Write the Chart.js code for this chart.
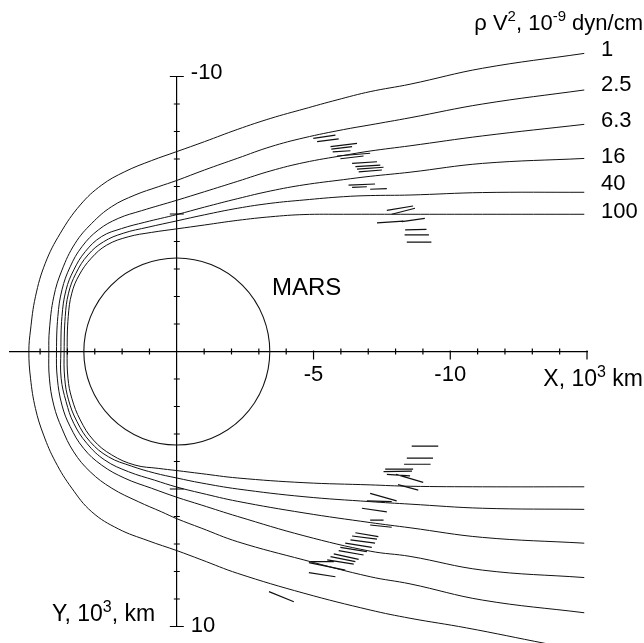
<!DOCTYPE html>
<html>
<head>
<meta charset="utf-8">
<script src="https://cdn.jsdelivr.net/npm/chart.js@4/dist/chart.umd.min.js"></script>
<style>
  html, body { margin: 0; padding: 0; background: #fff; }
  #contenedor { width: 644px; height: 643px; }
</style>
</head>
<body>
<div id="contenedor"><canvas id="graficaChoque" width="644" height="643"></canvas></div>
<script>
const FUENTE = '"Liberation Sans", Arial, sans-serif';
const RADIO_MARTE = 3.4;

// presion dinamica de cada curva (10^-9 dyn/cm2)
const presiones = ['1', '2.5', '6.3', '16', '40', '100'];

// etiquetas de los ejes (10^3 km)
const etiquetasX = [-5, -10];
const etiquetasY = [-10, 10];

// curvas del choque [X, Y], desde la cola norte, por la nariz, hasta la cola sur
const choque1 = [[-14.9,-10.84],[-11.18,-10.3],[-8.53,-9.72],[-7.07,-9.45],[-5.86,-9.15],[-4.65,-8.82],[-3.44,-8.48],[-2.23,-8.08],[-1.01,-7.63],[0,-7.27],[0.93,-6.94],[1.9,-6.54],[2.75,-6.05],[3.53,-5.33],[4.26,-4.3],[4.81,-3.21],[5.17,-1.99],[5.35,-0.78],[5.41,0],[5.35,0.97],[5.17,2.07],[4.87,3.04],[4.44,4.01],[3.84,4.97],[3.11,5.83],[2.14,6.45],[1.05,6.88],[0,7.24],[-0.89,7.57],[-2.23,8.07],[-4.65,8.79],[-7.07,9.4],[-8.53,9.7],[-10.59,10.05],[-13.5,10.62],[-15,10.9]];
const choque25 = [[-14.9,-9.51],[-11.18,-9.0],[-8.53,-8.5],[-7.07,-8.24],[-6.1,-8.07],[-4.65,-7.77],[-3.44,-7.45],[-2.23,-7.03],[-1.01,-6.6],[0,-6.22],[0.68,-5.99],[1.53,-5.69],[2.38,-5.27],[3.11,-4.66],[3.72,-3.93],[4.2,-2.96],[4.5,-1.99],[4.66,-0.78],[4.68,0],[4.66,0.97],[4.5,1.95],[4.2,2.8],[3.77,3.65],[3.17,4.37],[2.38,4.97],[1.41,5.46],[0.56,5.83],[0,6.08],[-0.89,6.42],[-2.23,6.92],[-4.65,7.58],[-7.07,8.19],[-8.53,8.45],[-11.18,9.04],[-14.9,9.5]];
const choque63 = [[-14.9,-8.26],[-11.18,-7.84],[-8.53,-7.48],[-7.07,-7.29],[-6.1,-7.13],[-4.65,-6.87],[-3.44,-6.57],[-2.23,-6.19],[-1.01,-5.81],[0,-5.5],[1.29,-5.12],[2.14,-4.84],[2.87,-4.42],[3.47,-3.81],[3.9,-3.08],[4.2,-2.24],[4.35,-1.27],[4.4,0],[4.37,0.97],[4.2,1.95],[3.9,2.73],[3.41,3.52],[2.75,4.13],[1.9,4.61],[0.93,4.97],[0,5.3],[-0.89,5.58],[-2.23,6.0],[-4.65,6.7],[-7.07,7.26],[-8.53,7.45],[-11.18,7.95],[-14.9,8.22]];
const choque16 = [[-14.9,-7.02],[-11.18,-6.84],[-8.53,-6.52],[-7.07,-6.37],[-6.1,-6.25],[-4.65,-6.06],[-3.44,-5.84],[-2.23,-5.56],[-1.01,-5.25],[0,-4.98],[1.17,-4.7],[2.02,-4.47],[2.75,-4.18],[3.35,-3.63],[3.77,-2.96],[4.05,-2.24],[4.2,-1.27],[4.24,0],[4.23,0.97],[4.05,1.82],[3.77,2.61],[3.29,3.34],[2.63,3.95],[1.77,4.37],[0.81,4.68],[0,4.93],[-0.89,5.15],[-2.23,5.45],[-4.65,5.87],[-7.07,6.22],[-8.53,6.41],[-11.18,6.76],[-14.9,6.97]];
const choque40 = [[-14.9,-5.79],[-11.18,-5.78],[-8.53,-5.69],[-7.07,-5.67],[-6.1,-5.63],[-4.65,-5.51],[-3.44,-5.39],[-2.23,-5.21],[-1.01,-4.97],[0,-4.75],[1.05,-4.52],[1.96,-4.3],[2.68,-3.99],[3.25,-3.51],[3.69,-2.84],[3.96,-2.12],[4.08,-1.27],[4.12,0],[4.1,0.97],[3.96,1.76],[3.65,2.55],[3.17,3.28],[2.5,3.83],[1.65,4.17],[0.81,4.42],[0,4.6],[-0.89,4.78],[-2.23,5.0],[-4.65,5.28],[-7.07,5.46],[-8.53,5.55],[-11.18,5.7],[-14.9,5.74]];
const choque100 = [[-14.9,-4.99],[-11.18,-4.99],[-8.53,-4.99],[-6.1,-4.99],[-4.65,-4.98],[-3.44,-4.9],[-2.23,-4.77],[-1.01,-4.6],[0,-4.46],[0.93,-4.33],[1.78,-4.17],[2.56,-3.87],[3.13,-3.39],[3.57,-2.78],[3.84,-2.12],[3.97,-1.27],[4.01,0],[3.98,0.97],[3.84,1.7],[3.53,2.49],[3.05,3.22],[2.38,3.76],[1.53,4.13],[0.68,4.25],[0,4.33],[-0.89,4.44],[-2.23,4.6],[-4.65,4.77],[-7.07,4.85],[-8.53,4.9],[-11.18,4.92],[-14.9,4.92]];

// cruces observados del choque: [X1, Y1, X2, Y2]
const crucesNorte = [
  [-4.99,-7.75,-5.80,-7.87],[-5.13,-7.63,-5.92,-7.73],[-5.62,-7.45,-6.59,-7.57],[-5.65,-7.36,-6.41,-7.45],
  [-5.70,-7.26,-6.35,-7.30],[-5.86,-7.11,-7.07,-7.21],[-5.98,-7.01,-6.83,-7.11],[-6.41,-6.84,-7.32,-6.90],
  [-6.53,-6.72,-7.44,-6.78],[-6.59,-6.63,-7.56,-6.70],[-6.65,-6.53,-7.50,-6.60],[-6.28,-6.05,-7.25,-6.09],
  [-6.41,-5.97,-6.95,-5.99],[-7.07,-5.90,-7.68,-5.92],[-7.68,-5.13,-8.64,-5.29],[-7.86,-4.99,-8.71,-5.21],
  [-7.32,-4.68,-8.28,-4.74],[-8.23,-4.72,-9.07,-4.84],[-8.35,-4.42,-9.13,-4.44],[-8.33,-4.24,-9.22,-4.24],
  [-8.41,-3.98,-9.31,-3.98]
];
const crucesSur = [
  [-8.59,3.44,-9.56,3.44],[-8.41,3.88,-9.37,3.88],[-8.31,4.10,-9.28,4.10],[-7.62,4.28,-8.64,4.28],
  [-7.56,4.37,-8.60,4.35],[-7.68,4.47,-8.53,4.52],[-8.02,4.47,-9.01,4.76],[-8.09,4.84,-8.83,5.04],
  [-7.07,5.16,-8.04,5.43],[-6.95,5.43,-7.86,5.46],[-6.77,5.70,-7.68,5.83],[-7.07,6.13,-7.56,6.13],
  [-7.07,6.31,-7.86,6.39],[-6.53,6.59,-7.37,6.73],[-6.41,6.71,-7.32,6.82],[-6.35,6.85,-7.25,6.97],
  [-6.16,6.97,-7.13,7.12],[-5.98,7.12,-6.95,7.28],[-5.92,7.24,-6.83,7.40],[-5.74,7.36,-6.65,7.56],
  [-5.62,7.46,-6.53,7.64],[-5.50,7.58,-6.47,7.73],[-4.89,7.64,-5.74,7.64],[-4.83,7.68,-6.16,7.95],
  [-4.83,8.04,-5.80,8.19],[-3.37,8.73,-4.28,9.10]
];

const curvas = [choque1, choque25, choque63, choque16, choque40, choque100];

const aPuntos = (lista) => lista.map(([x, y]) => ({ x, y }));

const aTrazos = (lista) => {
  const puntos = [];
  lista.forEach(([x1, y1, x2, y2]) => {
    puntos.push({ x: x1, y: y1 }, { x: x2, y: y2 }, { x: x2, y: null });
  });
  return puntos;
};

const escribir = (ctx, partes, x, y, alinear) => {
  let ancho = 0;
  partes.forEach(([texto, tam]) => {
    ctx.font = `${tam}px ${FUENTE}`;
    ancho += ctx.measureText(texto).width;
  });
  let px = alinear === 'right' ? x - ancho : x;
  partes.forEach(([texto, tam, subida]) => {
    ctx.font = `${tam}px ${FUENTE}`;
    ctx.fillText(texto, px, y - subida);
    px += ctx.measureText(texto).width;
  });
};

const dibujoEjes = {
  id: 'dibujoEjes',
  beforeDatasetsDraw(chart) {
    const { ctx, scales: { x, y } } = chart;
    const cx = x.getPixelForValue(0);
    const cy = y.getPixelForValue(0);
    const rx = Math.abs(x.getPixelForValue(RADIO_MARTE) - cx);
    const ry = Math.abs(y.getPixelForValue(RADIO_MARTE) - cy);
    ctx.save();
    ctx.strokeStyle = '#111';
    ctx.lineWidth = 1.1;
    ctx.beginPath();
    ctx.ellipse(cx, cy, rx, ry, 0, 0, Math.PI * 2);
    ctx.stroke();
    ctx.restore();
  },
  afterDraw(chart) {
    const { ctx, chartArea, scales: { x, y } } = chart;
    const ejeX = y.getPixelForValue(0);
    const ejeY = x.getPixelForValue(0);
    ctx.save();
    ctx.strokeStyle = '#000';
    ctx.lineWidth = 1.2;
    ctx.beginPath();
    y.ticks.forEach(({ value }) => {
      if (!Number.isInteger(value) || value === 0) return;
      const py = y.getPixelForValue(value);
      const largo = Math.abs(value) % 5 === 0 ? 7 : 3;
      ctx.moveTo(ejeY - largo, py);
      ctx.lineTo(ejeY + largo, py);
    });
    x.ticks.forEach(({ value }) => {
      if (!Number.isInteger(value) || value === 0) return;
      const px = x.getPixelForValue(value);
      if (value % 5 === 0 && value < 0) {
        ctx.moveTo(px, ejeX - 1);
        ctx.lineTo(px, ejeX + 8);
      } else {
        ctx.moveTo(px, ejeX - 3);
        ctx.lineTo(px, ejeX + 3);
      }
    });
    ctx.stroke();

    ctx.fillStyle = '#000';
    ctx.textBaseline = 'alphabetic';
    ctx.textAlign = 'left';
    ctx.font = `22px ${FUENTE}`;
    etiquetasY.forEach((v) => {
      const py = y.getPixelForValue(v) + (v < 0 ? 2 : 5);
      ctx.fillText(String(v), ejeY + 14, py);
    });

    // valores de presion al final de cada curva
    const ajustes = [-3, -5, -3, -1.5, -8, -2];
    ctx.textBaseline = 'middle';
    curvas.forEach((curva, i) => {
      const py = y.getPixelForValue(curva[0][1]) + ajustes[i];
      ctx.fillText(presiones[i], chartArea.right + 14, py);
    });

    ctx.textBaseline = 'alphabetic';
    escribir(ctx, [['\u03c1', 22, 0], [' V', 22, 0], ['2', 15, 9], [', 10', 22, 0], ['-9', 15, 9], [' dyn/cm', 22, 0]], 643, 30, 'right');
    escribir(ctx, [['X, 10', 23, 0], ['3', 16, 9], [' km', 23, 0]], 643, 386, 'right');
    escribir(ctx, [['Y, 10', 23, 0], ['3', 16, 9], [', km', 23, 0]], 52, 621, 'left');

    ctx.font = `24px ${FUENTE}`;
    ctx.textAlign = 'center';
    ctx.fillText('MARS', x.getPixelForValue(-4.75), y.getPixelForValue(-2.05));
    ctx.restore();
  }
};

const conjuntos = curvas.map((curva, i) => ({
  label: presiones[i],
  data: aPuntos(curva),
  showLine: true,
  borderColor: '#111',
  borderWidth: 1,
  pointRadius: 0,
  tension: 0.4,
  clip: false
}));

conjuntos.push({
  label: 'cruces',
  data: aTrazos(crucesNorte.concat(crucesSur)),
  showLine: true,
  borderColor: '#111',
  borderWidth: 1.2,
  pointRadius: 0,
  tension: 0,
  spanGaps: false,
  clip: false
});

new Chart(document.getElementById('graficaChoque'), {
  type: 'scatter',
  data: { datasets: conjuntos },
  plugins: [dibujoEjes],
  options: {
    responsive: false,
    animation: false,
    layout: { padding: { left: 8, right: 57, top: 76.5, bottom: 16.5 } },
    elements: { line: { capBezierPoints: false } },
    plugins: { legend: { display: false }, tooltip: { enabled: false } },
    scales: {
      x: {
        type: 'linear',
        min: -15,
        max: 6.1,
        reverse: true,
        position: { y: 0 },
        border: { display: true, color: '#000', width: 1.2 },
        grid: { drawOnChartArea: false, drawTicks: false },
        ticks: {
          stepSize: 1,
          autoSkip: false,
          maxRotation: 0,
          padding: 10,
          color: '#000',
          font: { family: FUENTE, size: 22 },
          callback: (v) => (etiquetasX.includes(v) ? String(v) : '')
        }
      },
      y: {
        type: 'linear',
        min: -10,
        max: 10,
        reverse: true,
        position: { x: 0 },
        border: { display: true, color: '#000', width: 1.2 },
        grid: { drawOnChartArea: false, drawTicks: false },
        ticks: { stepSize: 1, display: false }
      }
    }
  }
});
</script>
</body>
</html>
